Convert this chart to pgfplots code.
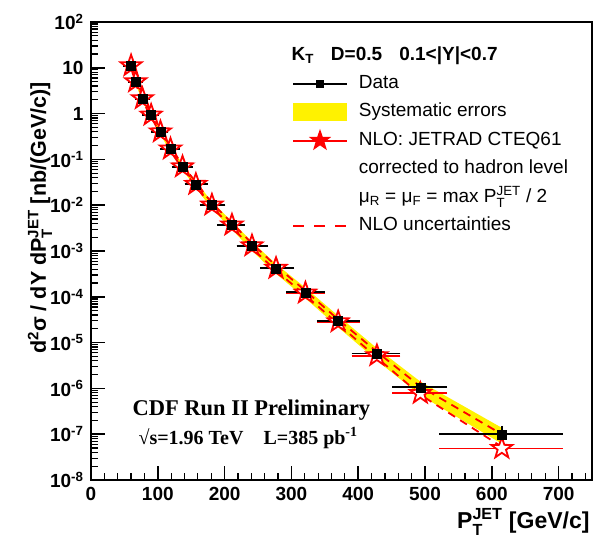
\documentclass[border=0pt]{standalone}
\usepackage{fontspec}
\usepackage{amsmath}
\setmainfont{Liberation Sans}
\newfontfamily\timesbf{Liberation Serif}
\usepackage{pgfplots}
\usepackage{pgfplotstable}
\pgfplotsset{compat=1.18}

\pgfdeclareplotmark{bstar}{%
  \pgfpathmoveto{\pgfpointpolar{90}{\pgfplotmarksize}}%
  \pgfpathlineto{\pgfpointpolar{126}{0.4\pgfplotmarksize}}%
  \pgfpathlineto{\pgfpointpolar{162}{\pgfplotmarksize}}%
  \pgfpathlineto{\pgfpointpolar{198}{0.4\pgfplotmarksize}}%
  \pgfpathlineto{\pgfpointpolar{234}{\pgfplotmarksize}}%
  \pgfpathlineto{\pgfpointpolar{270}{0.4\pgfplotmarksize}}%
  \pgfpathlineto{\pgfpointpolar{306}{\pgfplotmarksize}}%
  \pgfpathlineto{\pgfpointpolar{342}{0.4\pgfplotmarksize}}%
  \pgfpathlineto{\pgfpointpolar{18}{\pgfplotmarksize}}%
  \pgfpathlineto{\pgfpointpolar{54}{0.4\pgfplotmarksize}}%
  \pgfpathclose
  \pgfusepathqfillstroke
}

\pgfplotsset{
  leglinemark/.style={legend image code/.code={\draw[mark repeat=2,mark phase=2,##1] plot coordinates {(0pt,0pt) (27pt,0pt) (54pt,0pt)};}},
  legrect/.style={legend image code/.code={\fill[##1] (0pt,-9pt) rectangle (54pt,9pt);}},
  legline/.style={legend image code/.code={\draw[##1] (0pt,0pt) -- (54pt,0pt);}},
}

\pgfplotstableread{
x    y       xm  xp   ye      nlo     up      lo
60   11.1    6   2    0.1     11.1    12.2    10.0
67   4.97    5   5    0.04    4.97    5.47    4.47
77   2.12    5   6    0.02    2.12    2.33    1.91
90   0.93    7   6    0.008   0.93    1.02    0.84
104  0.40    8   6    0.004   0.40    0.44    0.36
119  0.169   9   8    0.002   0.169   0.186   0.152
137  0.069   10  9    0.0008  0.069   0.076   0.062
157  0.0286  11  12   0.0003  0.0286  0.0315  0.0257
181  0.0101  12  14   0.0001  0.0101  0.0111  0.0091
211  3.7e-3  16  13   5e-5    3.7e-3  4.1e-3  3.3e-3
241  1.3e-3  17  18   2e-5    1.3e-3  1.45e-3 1.16e-3
277  4.2e-4  18  21   8e-6    4.2e-4  4.75e-4 3.7e-4
321  1.25e-4 23  23   3e-6    1.21e-4 1.35e-4 1.08e-4
370  3.0e-5  26  26   1e-6    2.85e-5 3.2e-5  2.55e-5
428  5.8e-6  32  29   3e-7    5.2e-6  6.3e-6  4.7e-6
493  1.06e-6 36  34   8e-8    7.8e-7  1.1e-6  7.3e-7
615  1.0e-7  88  85   2.5e-8  4.9e-8  1.0e-7  5.3e-8
}\data

\newcommand{\ptj}{P$_{\text{T}}^{\text{JET}}$}

\begin{document}
\begin{tikzpicture}
\begin{axis}[
  at={(0,0)}, anchor=south west, scale only axis,
  width=501pt, height=458pt,
  xmin=0, xmax=750, ymode=log, ymin=1e-8, ymax=100,
  axis line style={line width=1.5pt},
  xtick pos=bottom, ytick pos=left,
  major tick length=0pt, minor tick length=0pt,
  xtick={0,100,200,300,400,500,600,700},
  xticklabels={0,100,200,300,400,500,600,700},
  ytick={1e-8,1e-7,1e-6,1e-5,1e-4,1e-3,1e-2,1e-1,1,10,100},
  yticklabels={10\textsuperscript{-8},10\textsuperscript{-7},10\textsuperscript{-6},10\textsuperscript{-5},10\textsuperscript{-4},10\textsuperscript{-3},10\textsuperscript{-2},10\textsuperscript{-1},1,10,10\textsuperscript{2}},
  ticklabel style={font=\bfseries\fontsize{19}{19}\selectfont},
  yticklabel style={xshift=-4pt},
  xticklabel style={yshift=-4pt},
  legend cell align=left,
  legend style={draw=none, fill=none, at={(0.401,0.891)}, anchor=north west,
    font=\fontsize{19}{19}\selectfont, row sep=5.5pt, column sep=9pt, inner sep=0pt,
    nodes={inner sep=2pt, text height=14pt, text depth=5pt}},
]
% systematic band
\addplot[fill=yellow, draw=none, forget plot] coordinates {
 (60,12.43) (67,5.57) (77,2.37) (90,1.05) (104,0.452) (119,0.193) (137,0.0794)
 (157,0.0332) (181,0.0119) (211,4.44e-3) (241,1.59e-3) (277,5.21e-4) (321,1.575e-4)
 (370,3.84e-5) (428,7.54e-6) (493,1.41e-6) (615,1.38e-7)
 (615,6.2e-8) (493,7.1e-7) (428,4.06e-6) (370,2.16e-5) (321,9.25e-5) (277,3.19e-4)
 (241,1.01e-3) (211,2.96e-3) (181,8.28e-3) (157,0.0240) (137,0.0587) (119,0.145)
 (104,0.348) (90,0.809) (77,1.87) (67,4.37) (60,9.77)} -- cycle;
% NLO uncertainties
\addplot[red, line width=1.8pt, dash pattern=on 8pt off 6pt, forget plot] table[x=x,y=up]{\data};
\addplot[red, line width=1.8pt, dash pattern=on 8pt off 6pt, forget plot] table[x=x,y=lo]{\data};
% NLO
\addplot[only marks, mark=bstar, mark size=11pt, mark options={draw=red, fill=white, line width=1.8pt}, forget plot,
  error bars/.cd, x dir=both, x explicit,
  error bar style={red, line width=1.8pt},
  error mark options={red, line width=1.8pt, mark size=4pt}]
  table[x=x, y=nlo, x error plus=xp, x error minus=xm]{\data};
% Data
\addplot[only marks, mark=square*, mark size=4.5pt, black, forget plot,
  error bars/.cd, x dir=both, x explicit, y dir=both, y explicit,
  error bar style={black, line width=1.8pt},
  error mark options={black, line width=1.8pt, mark size=4pt}]
  table[x=x, y=y, x error plus=xp, x error minus=xm, y error=ye]{\data};

\addlegendimage{black, line width=1.8pt, mark=square*, mark size=3pt, leglinemark}
\addlegendentry{Data}
\addlegendimage{fill=yellow, draw=none, legrect}
\addlegendentry{Systematic errors}
\addlegendimage{red, line width=1.8pt, mark=bstar, mark size=9pt, mark options={fill=red, draw=red}, leglinemark}
\addlegendentry{NLO: JETRAD CTEQ61}
\addlegendimage{empty legend}
\addlegendentry{corrected to hadron level}
\addlegendimage{empty legend}
\addlegendentry{μ\textsubscript{R} = μ\textsubscript{F} = max \ptj{} / 2}
\addlegendimage{red, line width=1.8pt, dash pattern=on 11pt off 10pt, legline}
\addlegendentry{NLO uncertainties}
\end{axis}
% axis ticks (inside, left and bottom)
\foreach \x in {0,100,...,700} {\draw[line width=1.5pt] ({\x*0.668pt},0pt) -- ++(0pt,14pt);}
\foreach \x in {20,40,...,740} {\draw[line width=1.2pt] ({\x*0.668pt},0pt) -- ++(0pt,7pt);}
\foreach \k in {0,...,10} {\draw[line width=1.5pt] (0pt,{\k*45.8pt}) -- ++(14pt,0pt);}
\foreach \k in {0,...,9} {\foreach \m in {2,...,9} {\draw[line width=1.2pt] (0pt,{(\k+log10(\m))*45.8pt}) -- ++(7pt,0pt);}}
\node[anchor=west, font=\bfseries\fontsize{19}{19}\selectfont] at (197pt,424pt)
  {K\textsubscript{T}\hspace{0.9em}D=0.5\hspace{0.9em}0.1<|Y|<0.7};
\node[anchor=west, font=\timesbf\bfseries\fontsize{22.5}{22.5}\selectfont] at (38pt,70pt) {CDF Run II Preliminary};
\node[anchor=west, font=\timesbf\bfseries\fontsize{20}{20}\selectfont] at (44pt,42pt)
  {√s=1.96 TeV\hspace{1em}L=385 pb\textsuperscript{-1}};
\node[rotate=90, font=\bfseries\fontsize{21.5}{21.5}\selectfont] at (-51pt,262pt)
  {d\textsuperscript{2}σ / dY d\ptj{} [nb/(GeV/c)]};
\node[anchor=east, font=\bfseries\fontsize{23}{23}\selectfont] at (502pt,-42pt) {\ptj{} [GeV/c]};
\pgfresetboundingbox
\useasboundingbox (-91pt,-62pt) rectangle (505pt,480pt);
\end{tikzpicture}
\end{document}
